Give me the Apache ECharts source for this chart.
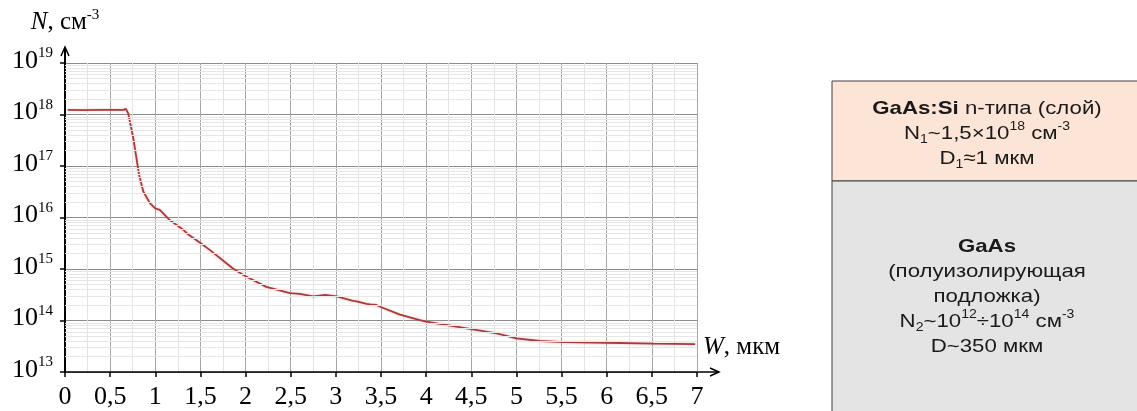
<!DOCTYPE html>
<html>
<head>
<meta charset="utf-8">
<script src="https://cdn.jsdelivr.net/npm/echarts@6/dist/echarts.min.js"></script>
<style>
  html, body { margin: 0; padding: 0; background: #fff; }
  #chart { width: 1137px; height: 411px; }
</style>
</head>
<body>
<div id="chart"></div>
<script>
// глубина W, мкм
var W = [0.03, 0.2, 0.4, 0.6, 0.65, 0.675, 0.70, 0.756, 0.82, 0.867, 0.94, 1.0, 1.05, 1.16, 1.31, 1.35,
  1.5, 1.61, 1.86, 1.99, 2.23, 2.49, 2.6, 2.75, 2.88, 3.01, 3.19, 3.23, 3.34, 3.38, 3.40, 3.45, 3.49,
  3.71, 3.93, 4.0, 4.5, 4.78, 5.0, 5.26, 5.52, 6.0, 6.52, 6.98];
// концентрация N, см^-3
var N = [1.23e18, 1.22e18, 1.23e18, 1.23e18, 1.23e18, 1.29e18, 1.05e18, 3.5e17, 6.8e16, 3.2e16, 1.9e16, 1.5e16, 1.4e16, 8.9e15, 5.8e15, 4.9e15,
  3.2e15, 2.3e15, 1.02e15, 7.4e14, 4.5e14, 3.4e14, 3.3e14, 2.95e14, 3.15e14, 2.95e14, 2.4e14, 2.35e14, 2.1e14, 2.05e14, 1.9e14, 2.0e14, 1.85e14,
  1.3e14, 1.02e14, 9.5e13, 6.8e13, 5.6e13, 4.5e13, 4.0e13, 3.8e13, 3.7e13, 3.55e13, 3.47e13];

var topBoxLines = ['{b|GaAs:Si} n-типа (слой)', 'N{sub|1}~1,5×10{sup|18} см{sup|-3}', 'D{sub|1}≈1 мкм'];
var bottomBoxLines = ['{b|GaAs}', '(полуизолирующая', 'подложка)', 'N{sub|2}~10{sup|12}÷10{sup|14} см{sup|-3}', 'D~350 мкм'];

var serif = "'Liberation Serif', 'Times New Roman', serif";
var sans = "'Liberation Sans', Arial, sans-serif";

var chart = echarts.init(document.getElementById('chart'));

series_data = [];
for (var i = 0; i < W.length; i++) {
  series_data.push([W[i], N[i]]);
}

// тонкие линии сетки 2..9 внутри каждой декады
minor_lines = [];
for (var e = 13; e < 19; e++) {
  for (var k = 2; k < 10; k++) {
    minor_lines.push({ yAxis: k * Math.pow(10, e) });
  }
}

var panelRich = {
  b: { fontFamily: sans, fontSize: 19, fontWeight: 'bold', lineHeight: 25, fill: '#1a1a1a' },
  sub: { fontFamily: sans, fontSize: 12, lineHeight: 17, verticalAlign: 'bottom', fill: '#1a1a1a' },
  sup: { fontFamily: sans, fontSize: 12, lineHeight: 14, verticalAlign: 'top', fill: '#1a1a1a' }
};

option = {
  animation: false,
  grid: { left: 65, right: 440, top: 63, bottom: 39 },
  xAxis: {
    type: 'value',
    min: 0,
    max: 7,
    interval: 0.5,
    name: '{i|W}{r|, мкм}',
    nameLocation: 'end',
    nameGap: 6,
    nameTextStyle: {
      rich: {
        i: { fontFamily: serif, fontSize: 25, fontStyle: 'italic', lineHeight: 25, color: '#000' },
        r: { fontFamily: serif, fontSize: 25, lineHeight: 25, color: '#000' }
      },
      verticalAlign: 'bottom',
      padding: [0, 0, 12, 0]
    },
    axisLine: { show: true, onZero: false, lineStyle: { color: '#000', width: 1.5 } },
    axisTick: { show: true, length: 5, lineStyle: { color: '#000', width: 1.5 } },
    minorTick: { show: false, splitNumber: 2 },
    axisLabel: {
      margin: 12,
      fontFamily: serif,
      fontSize: 26,
      color: '#000',
      formatter: function (v) { return String(v).replace('.', ','); }
    },
    splitLine: { show: true, lineStyle: { color: '#a6a6a6', width: 1 } },
    minorSplitLine: { show: true, lineStyle: { color: '#e3e3e3', width: 1 } }
  },
  yAxis: {
    type: 'log',
    logBase: 10,
    min: 1e13,
    max: 1e19,
    interval: 1,
    name: '{i|N}{r|, см}{s|-3}',
    nameLocation: 'end',
    nameGap: 26,
    nameTextStyle: {
      rich: {
        i: { fontFamily: serif, fontSize: 25, fontStyle: 'italic', lineHeight: 29, color: '#000' },
        r: { fontFamily: serif, fontSize: 25, lineHeight: 29, color: '#000' },
        s: { fontFamily: serif, fontSize: 15, lineHeight: 15, verticalAlign: 'top', color: '#000' }
      }
    },
    axisLine: { show: true, lineStyle: { color: '#000', width: 2 } },
    axisTick: { show: true, length: 5, lineStyle: { color: '#000', width: 1.5 } },
    axisLabel: {
      margin: 12,
      padding: [0, 0, 4, 0],
      formatter: function (v) {
        var p = Math.round(Math.log10(v));
        return '{a|10}{b|' + p + '}';
      },
      rich: {
        a: { fontFamily: serif, fontSize: 26, lineHeight: 30, color: '#000' },
        b: { fontFamily: serif, fontSize: 15, lineHeight: 15, verticalAlign: 'top', color: '#000' }
      }
    },
    splitLine: { show: true, lineStyle: { color: '#8c8c8c', width: 1 } }
  },
  series: [
    {
      name: 'minor',
      type: 'line',
      data: [],
      z: 1,
      silent: true,
      markLine: {
        silent: true,
        symbol: 'none',
        animation: false,
        label: { show: false },
        lineStyle: { color: '#e6e6e6', width: 1, type: 'solid' },
        emphasis: { disabled: true },
        data: minor_lines
      }
    },
    {
      name: 'N',
      type: 'line',
      data: series_data,
      z: 3,
      showSymbol: false,
      smooth: false,
      lineStyle: { color: '#aa3a3a', width: 1.8, shadowColor: 'rgba(235,150,150,0.6)', shadowBlur: 3 }
    }
  ],
  graphic: [
    // продолжения осей со стрелками
    { type: 'line', shape: { x1: 65, y1: 63, x2: 65, y2: 48 }, style: { stroke: '#000', lineWidth: 2 } },
    { type: 'polyline', shape: { points: [[61, 56], [65, 47], [69, 56]] }, style: { stroke: '#000', lineWidth: 1.5, fill: null } },
    { type: 'line', shape: { x1: 697, y1: 372, x2: 719, y2: 372 }, style: { stroke: '#000', lineWidth: 1.5 } },
    { type: 'polyline', shape: { points: [[710, 368], [719, 372], [710, 376]] }, style: { stroke: '#000', lineWidth: 1.5, fill: null } },
    // схема структуры справа
    { type: 'rect', shape: { x: 832, y: 81, width: 320, height: 100 }, style: { fill: '#fce4d6', stroke: '#404040', lineWidth: 1 } },
    { type: 'rect', shape: { x: 832, y: 181, width: 320, height: 250 }, style: { fill: '#e4e4e4', stroke: '#404040', lineWidth: 1 } },
    {
      type: 'text', x: 987, y: 96, scaleX: 1.17,
      style: {
        text: topBoxLines.join('\n'), fontFamily: sans, fontSize: 19, lineHeight: 25,
        align: 'center', verticalAlign: 'top', fill: '#1a1a1a', rich: panelRich
      }
    },
    {
      type: 'text', x: 987, y: 234, scaleX: 1.17,
      style: {
        text: bottomBoxLines.join('\n'), fontFamily: sans, fontSize: 19, lineHeight: 25,
        align: 'center', verticalAlign: 'top', fill: '#1a1a1a', rich: panelRich
      }
    }
  ]
};

chart.setOption(option);
</script>
</body>
</html>
